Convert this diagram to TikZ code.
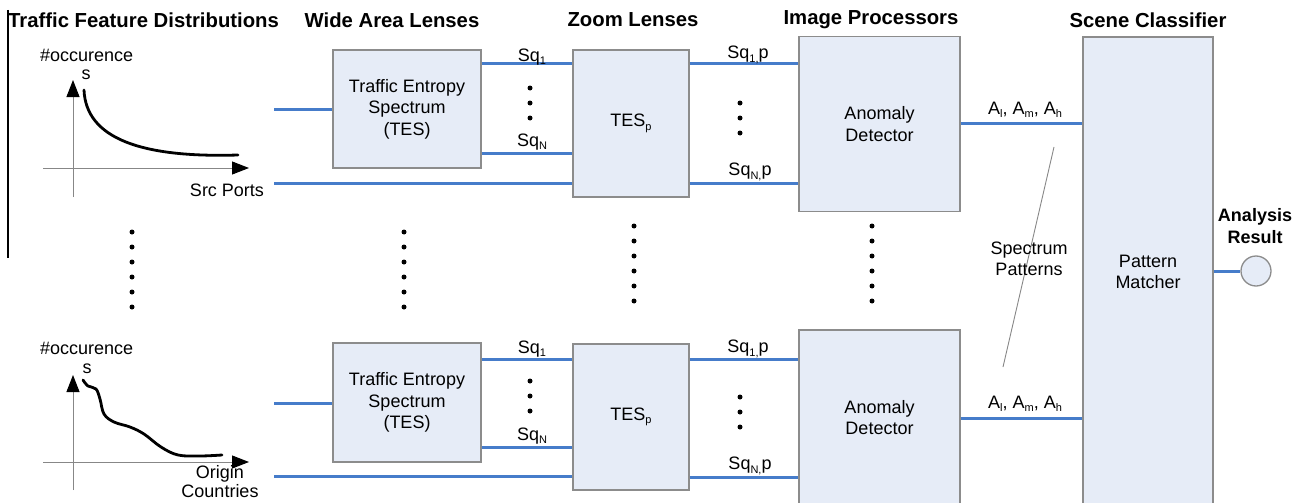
\documentclass[tikz,border=0pt]{standalone}
\usepackage{fontspec}
\setmainfont{Liberation Sans}
\usetikzlibrary{arrows.meta,calc}
\definecolor{boxfill}{RGB}{230,236,247}
\definecolor{boxline}{RGB}{140,140,140}
\definecolor{wirecol}{RGB}{70,124,202}
\definecolor{axiscol}{RGB}{135,135,135}
\newcommand\fsnorm{\fontsize{18}{21.5}\selectfont}
\newcommand\fshead{\fontsize{20.3}{22}\selectfont\bfseries}
\newcommand\mysub[1]{\raisebox{-3.5pt}{\fontsize{11}{12}\selectfont #1}}
\begin{document}
\begin{tikzpicture}[x=1pt,y=-1pt,
  box/.style={draw=boxline, fill=boxfill, line width=1.3pt, align=center, font=\fsnorm, inner sep=0pt},
  wire/.style={draw=wirecol, line width=3pt},
  lbl/.style={font=\fsnorm, inner sep=0pt, align=center},
  head/.style={font=\fshead, inner sep=0pt, align=center},
  dotnode/.style={circle, fill=black, inner sep=0pt, minimum size=5pt},
  axisline/.style={draw=axiscol, line width=1pt, -{Triangle[color=black, fill=black, length=17pt, width=13pt]}},
  curve/.style={draw=black, line width=2.8pt, line cap=round},
  pointer/.style={draw=axiscol, line width=0.9pt}
]
\useasboundingbox (0,0) rectangle (1303,503);

% headings
\node[head, anchor=west] (h1) at (8,20) {Traffic Feature Distributions};
\node[head] (h2) at (392,20) {Wide Area Lenses};
\node[head] (h3) at (633,20) {Zoom Lenses};
\node[head] (h4) at (871,20) {Image Processors};
\node[head] (h5) at (1148,20) {Scene Classifier};
\draw[line width=1.2pt] (8,10) -- (8,258);

% ---------- top distribution graph ----------
\node[lbl, anchor=west] (occ1) at (40,55) {\#occurence};
\node[lbl] (s1) at (86,75) {s};
\coordinate (y1b) at (73,197);
\coordinate (y1t) at (73,80);
\coordinate (x1l) at (43,168);
\coordinate (x1r) at (249,168);
\draw[axisline] (y1b) -- (y1t);
\draw[axisline] (x1l) -- (x1r);
\draw[curve] (84,90) .. controls (86,138) and (140,158) .. (238,155);
\node[lbl] (sp1) at (227,190) {Src Ports};

% ---------- bottom distribution graph ----------
\node[lbl, anchor=west] (occ2) at (40,348) {\#occurence};
\node[lbl] (s2) at (87,369) {s};
\coordinate (y2b) at (73,490);
\coordinate (y2t) at (73,375);
\coordinate (x2l) at (43,462);
\coordinate (x2r) at (249,462);
\draw[axisline] (y2b) -- (y2t);
\draw[axisline] (x2l) -- (x2r);
\draw[curve] plot[smooth, tension=0.6] coordinates {(83,380) (88,386) (96,389) (100,399) (104,414) (114,422) (130,427) (144,434) (161,447) (178,455) (200,456) (222,455)};
\node[lbl] (oc2) at (220,482) {Origin\\[-2.5pt]Countries};

% ---------- vertical ellipses ----------
\foreach \i in {0,...,5} {
  \node[dotnode] (ldot\i) at (132,232+15*\i) {};
  \node[dotnode] (wdot\i) at (404,232+15*\i) {};
  \node[dotnode] (zdot\i) at (634,226+15*\i) {};
  \node[dotnode] (idot\i) at (872,226+15*\i) {};
}

% ---------- top row ----------
\node[box, minimum width=148pt, minimum height=118pt] (wa1) at (407,109) {Traffic Entropy\\Spectrum\\(TES)};
\node[box, minimum width=116pt, minimum height=147pt] (zl1) at (631,123.5) {TES\mysub{p}};
\node[box, minimum width=161pt, minimum height=175pt] (ad1) at (879.5,124) {Anomaly\\Detector};

% ---------- bottom row ----------
\node[box, minimum width=148pt, minimum height=119pt] (wa2) at (407,402.5) {Traffic Entropy\\Spectrum\\(TES)};
\node[box, minimum width=116pt, minimum height=146pt] (zl2) at (631,417) {TES\mysub{p}};
\node[box, minimum width=161pt, minimum height=175pt] (ad2) at (879.5,417.5) {Anomaly\\Detector};

% ---------- scene classifier ----------
\node[box, minimum width=130pt, minimum height=470pt] (pm) at (1148,272) {Pattern\\Matcher};
\node[circle, draw=boxline, fill=boxfill, line width=1.3pt, minimum size=30pt, inner sep=0pt] (res) at (1256,271) {};
\node[head, font=\fontsize{18}{21.5}\selectfont\bfseries] (reslbl) at (1255,226) {Analysis\\Result};

% ---------- free ends of inputs ----------
\coordinate (in1a) at (274,109);
\coordinate (in1b) at (274,183);
\coordinate (in2a) at (274,403);
\coordinate (in2b) at (274,476);

% ---------- wires top ----------
\draw[wire] (in1a) -- (wa1.west |- in1a);
\draw[wire] (in1b) -- (zl1.west |- in1b);
\draw[wire] (wa1.east |- 0,64) -- (zl1.west |- 0,64);
\draw[wire] (wa1.east |- 0,153) -- (zl1.west |- 0,153);
\draw[wire] (zl1.east |- 0,64) -- (ad1.west |- 0,64);
\draw[wire] (zl1.east |- 0,183) -- (ad1.west |- 0,183);
\draw[wire] (ad1.east |- 0,123) -- (pm.west |- 0,123);

% ---------- wires bottom ----------
\draw[wire] (in2a) -- (wa2.west |- in2a);
\draw[wire] (in2b) -- (zl2.west |- in2b);
\draw[wire] (wa2.east |- 0,359) -- (zl2.west |- 0,359);
\draw[wire] (wa2.east |- 0,447) -- (zl2.west |- 0,447);
\draw[wire] (zl2.east |- 0,359) -- (ad2.west |- 0,359);
\draw[wire] (zl2.east |- 0,477) -- (ad2.west |- 0,477);
\draw[wire] (ad2.east |- 0,418) -- (pm.west |- 0,418);

\draw[wire] (pm.east |- res) -- (res.west);

% ---------- wire labels ----------
\node[lbl] (lsq1a) at (532,57) {Sq\mysub{1}};
\node[lbl] (lsqNa) at (532,142) {Sq\mysub{N}};
\node[lbl] (lsq1pa) at (748,55) {Sq\mysub{1,}p};
\node[lbl] (lsqNpa) at (750,172) {Sq\mysub{N,}p};
\node[lbl] (la1) at (1025,110) {A\mysub{l}, A\mysub{m}, A\mysub{h}};

\node[lbl] (lsq1b) at (532,349) {Sq\mysub{1}};
\node[lbl] (lsqNb) at (532,436) {Sq\mysub{N}};
\node[lbl] (lsq1pb) at (748,349) {Sq\mysub{1,}p};
\node[lbl] (lsqNpb) at (750,466) {Sq\mysub{N,}p};
\node[lbl] (la2) at (1025,404) {A\mysub{l}, A\mysub{m}, A\mysub{h}};

% small dots between wires
\foreach \i in {0,1,2} {
  \node[dotnode] (a\i) at (530,88+15*\i) {};
  \node[dotnode] (b\i) at (740,103+15*\i) {};
  \node[dotnode] (c\i) at (530,381+15*\i) {};
  \node[dotnode] (d\i) at (740,397+15*\i) {};
}

% spectrum patterns pointer
\coordinate (sp1) at (1054,147);
\coordinate (sp2) at (1003,367);
\draw[pointer] (sp1) -- (sp2);
\node[lbl] (spl) at (1029,259) {Spectrum\\Patterns};
\end{tikzpicture}
\end{document}
